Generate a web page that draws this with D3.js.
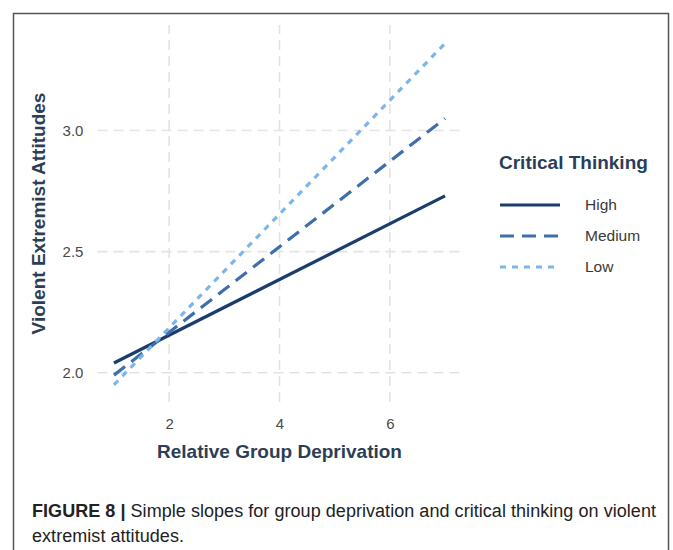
<!DOCTYPE html>
<html><head><meta charset="utf-8">
<script src="https://cdn.jsdelivr.net/npm/d3@7"></script>
<style>body{margin:0;background:#fff;} svg{display:block;}</style>
</head><body>
<svg id="c" width="673" height="550"></svg>
<script>
const levels = ["High", "Medium", "Low"];
const xEnds = [1, 7];
const highVals = [2.04, 2.73];
const mediumVals = [1.99, 3.05];
const lowVals = [1.95, 3.36];
const xTicks = [2, 4, 6];
const yTicks = [2.0, 2.5, 3.0];
const colors = ["#1b3d6e", "#3f6faa", "#7cb5ec"];
const dashes = [null, "14,8", "6,6"];
const FONT = "'Liberation Sans', Arial, Helvetica, sans-serif";

const svg = d3.select("#c");
svg.append("path").attr("d", "M13.5,550 V13.5 H668.5 V550").attr("fill", "none")
  .attr("stroke", "#555").attr("stroke-width", 1.5);

const x = d3.scaleLinear().domain([0.7, 7.3]).range([97.4, 461.6]);
const y = d3.scaleLinear().domain([1.879, 3.436]).range([402, 25]);

const grid = svg.append("g");
grid.selectAll(".gx").data(xTicks).enter().append("line")
  .attr("x1", d => x(d)).attr("x2", d => x(d)).attr("y1", y.range()[0]).attr("y2", y.range()[1])
  .attr("stroke", "#e3e3e3").attr("stroke-width", 1.6).attr("stroke-dasharray", "10,6");
grid.selectAll(".gy").data(yTicks).enter().append("line")
  .attr("y1", d => y(d)).attr("y2", d => y(d)).attr("x1", x.range()[0]).attr("x2", x.range()[1])
  .attr("stroke", "#e3e3e3").attr("stroke-width", 1.6).attr("stroke-dasharray", "10,6");

const xAxis = svg.append("g").attr("transform", `translate(0,${y.range()[0]})`)
  .call(d3.axisBottom(x).tickValues(xTicks).tickSize(0).tickPadding(16).tickFormat(d3.format("d")));
xAxis.select(".domain").remove();
xAxis.selectAll("text").attr("font-family", FONT).attr("font-size", 15).attr("fill", "#4a4a4a");

const yAxis = svg.append("g").attr("transform", `translate(${x.range()[0]},0)`)
  .call(d3.axisLeft(y).tickValues(yTicks).tickSize(0).tickPadding(14).tickFormat(d3.format(".1f")));
yAxis.select(".domain").remove();
yAxis.selectAll("text").attr("font-family", FONT).attr("font-size", 15).attr("fill", "#4a4a4a");

const series = [highVals, mediumVals, lowVals];
const line = d3.line().x((d, i) => x(xEnds[i])).y(d => y(d));
series.forEach((s, i) => {
  svg.append("path").datum(s).attr("d", line).attr("fill", "none")
    .attr("stroke", colors[i]).attr("stroke-width", 3.2)
    .attr("stroke-dasharray", dashes[i]);
});

svg.append("text").attr("x", (x.range()[0] + x.range()[1]) / 2).attr("y", 458)
  .attr("text-anchor", "middle").attr("font-family", FONT)
  .attr("font-weight", "bold").attr("font-size", 19).attr("fill", "#2c3e56")
  .text("Relative Group Deprivation");
svg.append("text").attr("transform", `translate(45,${(y.range()[0] + y.range()[1]) / 2}) rotate(-90)`)
  .attr("text-anchor", "middle").attr("font-family", FONT)
  .attr("font-weight", "bold").attr("font-size", 19).attr("fill", "#2c3e56")
  .text("Violent Extremist Attitudes");

const lg = svg.append("g");
lg.append("text").attr("x", 499).attr("y", 169).attr("font-family", FONT)
  .attr("font-weight", "bold").attr("font-size", 19).attr("fill", "#2c3e56").text("Critical Thinking");
levels.forEach((lv, i) => {
  const yy = 205 + i * 31;
  lg.append("line").attr("x1", 500).attr("x2", 560).attr("y1", yy).attr("y2", yy)
    .attr("stroke", colors[i]).attr("stroke-width", 3.2).attr("stroke-dasharray", dashes[i]);
  lg.append("text").attr("x", 585).attr("y", yy + 5).attr("font-family", FONT)
    .attr("font-size", 15.5).attr("fill", "#3a3a3a").text(lv);
});

const cap = svg.append("text").attr("font-family", FONT)
  .attr("font-size", 18).attr("fill", "#222");
const l1 = cap.append("tspan").attr("x", 32).attr("y", 517);
l1.append("tspan").attr("font-weight", "bold").text("FIGURE 8 | ");
l1.append("tspan").text("Simple slopes for group deprivation and critical thinking on violent");
cap.append("tspan").attr("x", 32).attr("y", 542).text("extremist attitudes.");
// adjust spacing so line 1 spans the width seen in the figure
const w1 = l1.node().getComputedTextLength();
const nChars = l1.text().length;
const ls = (624 - w1) / nChars;
cap.attr("letter-spacing", ls.toFixed(3));
</script>
</body></html>
